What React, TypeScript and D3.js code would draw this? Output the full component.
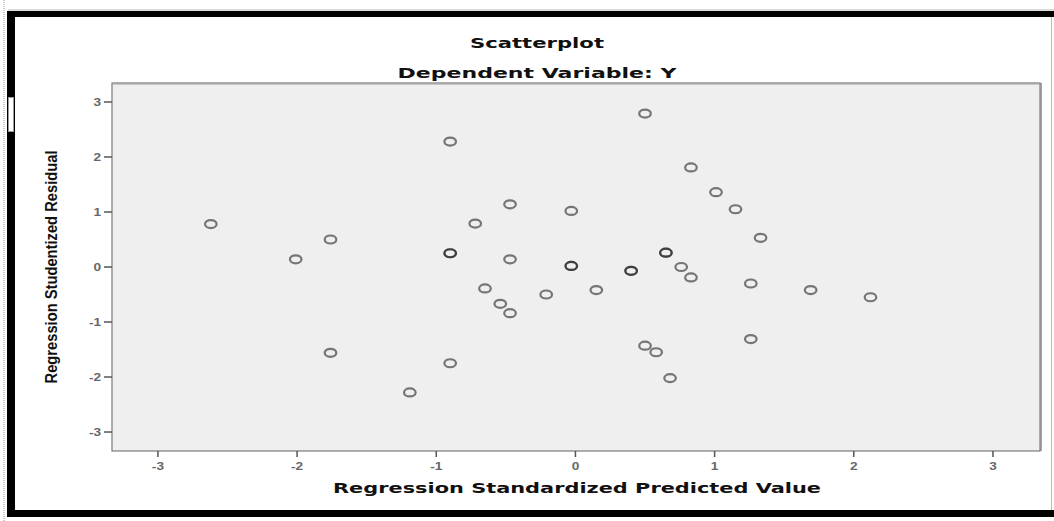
import React from 'react';
import * as d3 from 'd3';

// predicted (x) and studentized residual (y); repeated rows are overlapping cases
const predicted = [
  -2.62, -2.01, -1.76, -1.76, -1.19, -0.9, -0.9, -0.9, -0.9, -0.72, -0.47, -0.47,
  -0.65, -0.54, -0.47, -0.21, -0.03, -0.03, -0.03, 0.15, 0.4, 0.4, 0.5, 0.5,
  0.58, 0.65, 0.65, 0.68, 0.76, 0.83, 0.83, 1.01, 1.15, 1.33, 1.26, 1.26, 1.69, 2.12,
];
const residual = [
  0.78, 0.14, 0.5, -1.56, -2.28, 2.28, 0.25, 0.25, -1.75, 0.79, 1.14, 0.14,
  -0.39, -0.67, -0.84, -0.5, 1.02, 0.02, 0.02, -0.42, -0.07, -0.07, 2.79, -1.43,
  -1.55, 0.26, 0.26, -2.02, 0.0, -0.19, 1.81, 1.36, 1.05, 0.53, -0.3, -1.31, -0.42, -0.55,
];
const xTicks = [-3, -2, -1, 0, 1, 2, 3];
const yTicks = [3, 2, 1, 0, -1, -2, -3];

const W = 1054;
const H = 521;

export default function App() {
  const x = d3.scaleLinear().domain([-3.33, 3.338]).range([112, 1040]);
  const y = d3.scaleLinear().domain([-3.345, 3.345]).range([451, 83]);
  const [x0, x1] = x.range();
  const [y0, y1] = y.range();

  return (
    <svg width={W} height={H} style={{ position: 'absolute', left: 0, top: 0, background: '#fff' }}>
      {/* page frame */}
      <line x1={4} x2={4} y1={0} y2={H} stroke="#999" strokeDasharray="1,1" />
      <line x1={8} x2={W} y1={10} y2={10} stroke="#bbb" />
      <rect x={7} y={11} width={W - 7} height={6} fill="#000" />
      <rect x={7} y={11} width={8} height={506} fill="#000" />
      <rect x={7} y={510} width={W - 7} height={7} fill="#000" />
      <line x1={1051.5} x2={1051.5} y1={17} y2={510} stroke="#bbb" />
      <rect x={8.5} y={97.5} width={5} height={34} fill="#fff" stroke="#999" />

      {/* titles */}
      <text x={537} y={48} textAnchor="middle" fontFamily="DejaVu Sans" fontWeight="bold" fontSize={14.5}
        textLength={134} lengthAdjust="spacingAndGlyphs" fill="#111">Scatterplot</text>
      <text x={537} y={78} textAnchor="middle" fontFamily="DejaVu Sans" fontWeight="bold" fontSize={14.5}
        textLength={279} lengthAdjust="spacingAndGlyphs" fill="#111">Dependent Variable: Y</text>

      {/* plot area */}
      <rect x={x0} y={y1} width={x1 - x0} height={y0 - y1} fill="#efefef" stroke="#7a7a7a" strokeWidth={1.2} />
      <line x1={x0} x2={x1 + 1} y1={y1 + 1} y2={y1 + 1} stroke="#a0a0a0" strokeWidth={1} />
      <line x1={x1 + 1} x2={x1 + 1} y1={y1} y2={y0} stroke="#888" strokeWidth={1.5} />

      {/* y axis */}
      {yTicks.map(t => (
        <g key={'y' + t}>
          <line x1={x0 - 8} x2={x0} y1={y(t)} y2={y(t)} stroke="#555" strokeWidth={1.5} />
          <text transform={`translate(${x0 - 11},${y(t) + 4}) scale(1.3,1)`} textAnchor="end"
            fontFamily="Liberation Sans" fontWeight="bold" fontSize={10.5} fill="#666">{t}</text>
        </g>
      ))}
      {/* x axis */}
      {xTicks.map(t => (
        <g key={'x' + t}>
          <line x1={x(t)} x2={x(t)} y1={y0} y2={y0 + 6} stroke="#555" strokeWidth={1.5} />
          <text transform={`translate(${x(t)},${y0 + 19}) scale(1.3,1)`} textAnchor="middle"
            fontFamily="Liberation Sans" fontWeight="bold" fontSize={10.5} fill="#666">{t}</text>
        </g>
      ))}

      <text x={577} y={493} textAnchor="middle" fontFamily="DejaVu Sans" fontWeight="bold" fontSize={14}
        textLength={488} lengthAdjust="spacingAndGlyphs" fill="#111">Regression Standardized Predicted Value</text>
      <text transform={`translate(57,${(y0 + y1) / 2}) scale(1.3,1) rotate(-90)`} textAnchor="middle"
        fontFamily="Liberation Sans" fontWeight="bold" fontSize={13} textLength={233}
        lengthAdjust="spacingAndGlyphs" fill="#111">Regression Studentized Residual</text>

      {/* points */}
      {predicted.map((p, i) => (
        <ellipse key={i} cx={x(p)} cy={y(residual[i])} rx={5.8} ry={4} fill="none"
          stroke="#111" strokeOpacity={0.55} strokeWidth={2.2} />
      ))}
    </svg>
  );
}
